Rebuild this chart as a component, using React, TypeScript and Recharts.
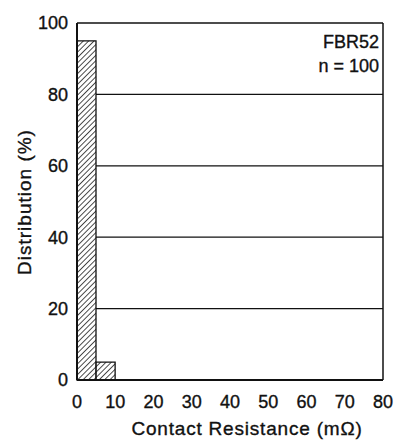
import { BarChart, Bar, XAxis, YAxis, CartesianGrid, Customized } from 'recharts'

// histogram bins, 5 mΩ wide (bin midpoints)
const BIN_MIDS = [2.5, 7.5, 12.5, 17.5, 22.5, 27.5, 32.5, 37.5, 42.5, 47.5, 52.5, 57.5, 62.5, 67.5, 72.5, 77.5]
const DISTRIBUTION = [95, 5, 0, 0, 0, 0, 0, 0, 0, 0, 0, 0, 0, 0, 0, 0]
const X_TICKS = [0, 10, 20, 30, 40, 50, 60, 70, 80]
const Y_TICKS = [0, 20, 40, 60, 80, 100]
const SAMPLE = 'FBR52'
const COUNT = 'n = 100'

const data = BIN_MIDS.map((mid, i) => ({ mid, value: DISTRIBUTION[i] }))

const FONT = '"Liberation Sans", Arial, sans-serif'
const tickStyle = { fontSize: 18, fill: '#111', fontFamily: FONT, stroke: '#111', strokeWidth: 0.35 }

function Titles() {
  return (
    <g fontFamily={FONT} fill="#111" stroke="#111" strokeWidth={0.35}>
      <text x={379} y={48} fontSize={18} textAnchor="end">{SAMPLE}</text>
      <text x={379} y={72} fontSize={18} textAnchor="end">{COUNT}</text>
      <text x={247} y={435} fontSize={19} letterSpacing={0.8} textAnchor="middle">
        Contact Resistance (mΩ)
      </text>
      <text
        x={31}
        y={202}
        fontSize={19}
        letterSpacing={1}
        textAnchor="middle"
        transform="rotate(-90, 31, 202)"
      >
        Distribution (%)
      </text>
    </g>
  )
}

export default function App() {
  return (
    <div style={{ position: 'absolute', left: 0, top: 0, background: '#fff' }}>
      <BarChart
        width={405}
        height={441}
        data={data}
        barCategoryGap={0}
        barGap={0}
        margin={{ top: 23, right: 21, left: 0, bottom: 0 }}
      >
        <defs>
          <pattern
            id="hatch"
            patternUnits="userSpaceOnUse"
            width={3.8}
            height={3.8}
            patternTransform="rotate(45)"
          >
            <rect width={3.8} height={3.8} fill="#fff" />
            <line x1={0} y1={0} x2={0} y2={3.8} stroke="#111" strokeWidth={1.5} />
          </pattern>
        </defs>
        <CartesianGrid vertical={false} stroke="#111" strokeWidth={1.3} />
        <XAxis
          dataKey="mid"
          type="number"
          domain={[0, 80]}
          ticks={X_TICKS}
          tick={tickStyle}
          tickLine={false}
          tickSize={0}
          tickMargin={15}
          height={61}
          axisLine={{ stroke: '#111', strokeWidth: 2 }}
        />
        <YAxis
          domain={[0, 100]}
          ticks={Y_TICKS}
          tick={tickStyle}
          tickLine={false}
          tickSize={0}
          tickMargin={9}
          width={77}
          axisLine={{ stroke: '#111', strokeWidth: 2 }}
        />
        <YAxis
          yAxisId="right"
          orientation="right"
          domain={[0, 100]}
          tick={false}
          tickLine={false}
          width={1}
          axisLine={{ stroke: '#111', strokeWidth: 1.5 }}
        />
        <Bar
          dataKey="value"
          fill="url(#hatch)"
          stroke="#111"
          strokeWidth={1.3}
          isAnimationActive={false}
        />
        <Customized component={Titles} />
      </BarChart>
    </div>
  )
}
